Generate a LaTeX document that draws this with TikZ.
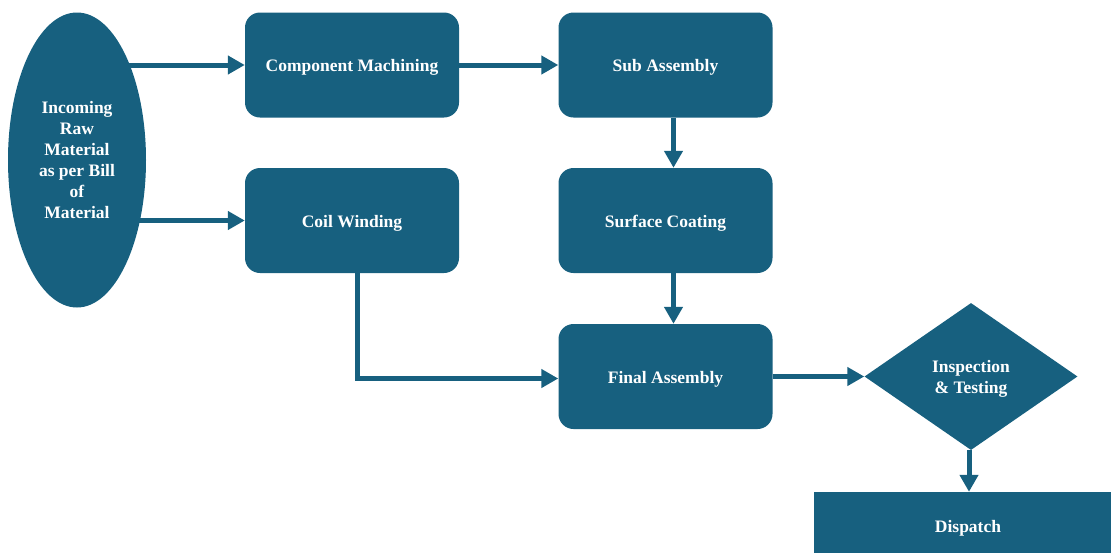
\documentclass[tikz,border=0pt]{standalone}
\usepackage{fontspec}
\setmainfont{Liberation Serif}
\usetikzlibrary{shapes.geometric,arrows.meta,backgrounds}
\definecolor{flowblue}{HTML}{17607F}
\begin{document}
\begin{tikzpicture}[x=1pt,y=-1pt,
  every node/.style={font=\fontsize{17.5}{21}\selectfont\bfseries, text=white, fill=flowblue, inner sep=0pt, align=center},
  procbox/.style={rectangle, rounded corners=15pt, minimum width=214pt, minimum height=105pt, text height=13pt, text depth=0pt},
  flow/.style={draw=flowblue, line width=5pt, -{Triangle[length=17pt,width=18pt]}}
]
\clip (0,0) rectangle (1111,552);

% process steps
\node[ellipse, minimum width=138pt, minimum height=295pt, text depth=0pt] (inc) at (77,160) {Incoming\\Raw\\Material\\as per Bill\\of\\Material};
\node[procbox] (cm) at (352,65) {Component Machining};
\node[procbox] (sub) at (665.5,65) {Sub Assembly};
\node[procbox] (coil) at (352,220.5) {Coil Winding};
\node[procbox] (surf) at (665.5,220.5) {Surface Coating};
\node[procbox] (final) at (665.5,376.5) {Final Assembly};
\node[diamond, minimum width=213pt, minimum height=147pt, text depth=0pt] (insp) at (971,376.5) {Inspection\\\& Testing};
\node[rectangle, minimum width=308pt, minimum height=68pt, text height=13pt, text depth=0pt] (disp) at (968,526) {Dispatch};

% connectors
\begin{scope}[on background layer]
\draw[flow] (inc.center |- cm.west) -- (cm.west);
\draw[flow] (inc.center |- coil.west) -- (coil.west);
\end{scope}
\draw[flow] (cm.east) -- (sub.west);
\draw[flow] ([xshift=8pt]sub.south) -- ([xshift=8pt]surf.north);
\draw[flow] ([xshift=8pt]surf.south) -- ([xshift=8pt]final.north);
\draw[flow] ([xshift=5pt]coil.south) |- ([yshift=-2pt]final.west);
\draw[flow] (final.east) -- (insp.west);
\draw[flow] ([xshift=-2pt]insp.south) -- ([xshift=1pt]disp.north);
\end{tikzpicture}
\end{document}
